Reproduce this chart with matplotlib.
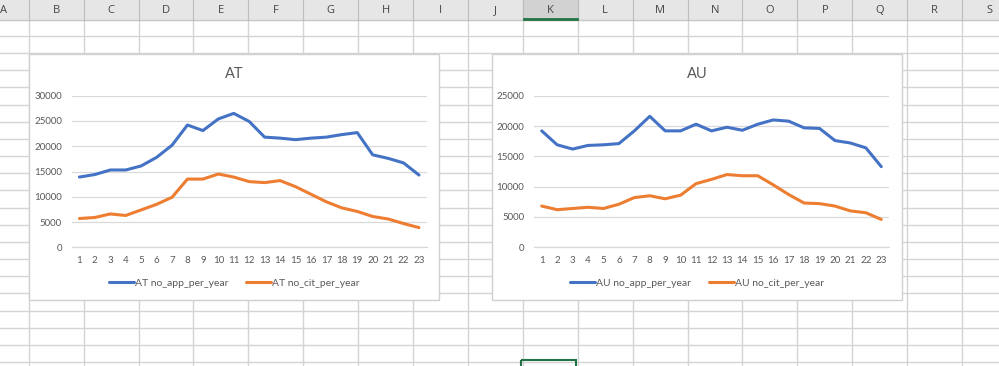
"""Two Excel-style line charts (AT / AU) on a spreadsheet grid."""

import matplotlib
matplotlib.use("Agg")
import matplotlib.pyplot as plt
from matplotlib.patches import Rectangle

# --- data -----------------------------------------------------------------
periods = list(range(1, 24))

at_app = [13900, 14400, 15300, 15300, 16100, 17800, 20200, 24200, 23100, 25400,
          26500, 24900, 21800, 21600, 21300, 21600, 21800, 22300, 22700, 18300,
          17600, 16700, 14300]
at_cit = [5700, 5900, 6600, 6300, 7400, 8500, 9900, 13500, 13500, 14500,
          13900, 13000, 12800, 13200, 12000, 10500, 9000, 7800, 7100, 6100,
          5600, 4700, 3900]

au_app = [19200, 16900, 16200, 16800, 16900, 17100, 19200, 21600, 19200, 19200,
          20300, 19200, 19800, 19300, 20300, 21000, 20800, 19700, 19600, 17600,
          17200, 16400, 13300]
au_cit = [6800, 6200, 6400, 6600, 6400, 7100, 8200, 8500, 8000, 8600,
          10500, 11200, 12000, 11800, 11800, 10300, 8700, 7300, 7200, 6800,
          6000, 5700, 4600]

column_letters = list("ABCDEFGHIJKLMNOPQRS")

BLUE = "#4472C4"
ORANGE = "#ED7D31"
TEXT = "#595959"
GRID = "#D9D9D9"
SHEET_LINE = "#D4D4D4"
FONT = ["Lato", "DejaVu Sans"]

W, H = 999, 366
plt.rcParams["font.family"] = FONT

fig = plt.figure(figsize=(W / 100, H / 100), dpi=100)

# background in pixel coordinates
bg = fig.add_axes([0, 0, 1, 1])
bg.set_xlim(0, W)
bg.set_ylim(H, 0)
bg.axis("off")

col_w = 54.9
col0 = 28.7
row_h = 17.16
row0 = 36.0
header_h = 19.5

# sheet grid lines
for k in range(-1, 20):
    x = col0 + k * col_w
    bg.plot([x, x], [header_h, H], color=SHEET_LINE, lw=1, zorder=1)
bg.plot([0, W], [header_h, header_h], color="#C8C8C8", lw=1, zorder=2)
for k in range(20):
    y = row0 + k * row_h
    bg.plot([0, W], [y, y], color=SHEET_LINE, lw=1, zorder=1)

# column header
bg.add_patch(Rectangle((0, 0), W, header_h, color="#E6E6E6", zorder=1.5))
for i, letter in enumerate(column_letters):
    left = col0 + (i - 1) * col_w
    if letter == "K":
        bg.add_patch(Rectangle((left, 0), col_w, header_h, color="#D2D2D2", zorder=1.6))
        bg.plot([left + 1, left + col_w - 1], [header_h - 1, header_h - 1],
                color="#217346", lw=2, zorder=3)
    bg.plot([left, left], [0, header_h], color="#BDBDBD", lw=0.8, zorder=2)
    # column A is partly scrolled off the left edge, as in the screenshot
    bg.text(max(left + col_w / 2, 3), header_h / 2 + 1, letter, ha="center",
            va="center", fontsize=8, color="#444444", zorder=3,
            family=["Open Sans", "DejaVu Sans"])

# selected cell
bg.add_patch(Rectangle((521, 360), 54.5, 10, fill=False, ec="#217346", lw=1.5, zorder=3))

# chart areas
for left in (29, 492):
    bg.add_patch(Rectangle((left, 54), 410, 246, facecolor="white",
                           edgecolor="#D0D0D0", lw=1, zorder=4))


def draw_chart(chart_left, plot_left, title, app, cit, ymax, label_app, label_cit):
    ax = fig.add_axes([plot_left / W, 1 - 247.3 / H, 355 / W, 151.6 / H], zorder=5)
    ax.patch.set_alpha(0)
    ax.plot(periods, app, color=BLUE, lw=2.2, solid_capstyle="round",
            solid_joinstyle="round", label=label_app, zorder=3)
    ax.plot(periods, cit, color=ORANGE, lw=2.2, solid_capstyle="round",
            solid_joinstyle="round", label=label_cit, zorder=3)
    ax.set_xlim(0.5, 23.5)
    ax.set_ylim(0, ymax)
    ax.set_yticks(range(0, ymax + 1, 5000))
    ax.set_xticks(periods)
    ax.yaxis.grid(True, color=GRID, lw=0.9)
    ax.set_axisbelow(True)
    for side in ("top", "right", "left"):
        ax.spines[side].set_visible(False)
    ax.spines["bottom"].set_color(GRID)
    ax.spines["bottom"].set_linewidth(0.9)
    ax.tick_params(axis="both", length=0, labelsize=7, colors=TEXT)
    ax.tick_params(axis="y", pad=7)
    ax.tick_params(axis="x", pad=6)
    centre = (chart_left + 205) / W
    fig.text(centre, 1 - 74 / H, title, ha="center", va="center",
             fontsize=10.5, color=TEXT, zorder=6)
    fig.legend(handles=ax.get_lines(), loc="center",
               bbox_to_anchor=(centre, 1 - 283 / H), ncol=2, frameon=False,
               fontsize=7.5, labelcolor=TEXT, handlelength=2.4,
               handletextpad=0.1, columnspacing=1.7)
    return ax


draw_chart(29, 71.7, "AT", at_app, at_cit, 30000,
           "AT no_app_per_year", "AT no_cit_per_year")
draw_chart(492, 534, "AU", au_app, au_cit, 25000,
           "AU no_app_per_year", "AU no_cit_per_year")

plt.savefig("out.png", dpi=100)
plt.close()
